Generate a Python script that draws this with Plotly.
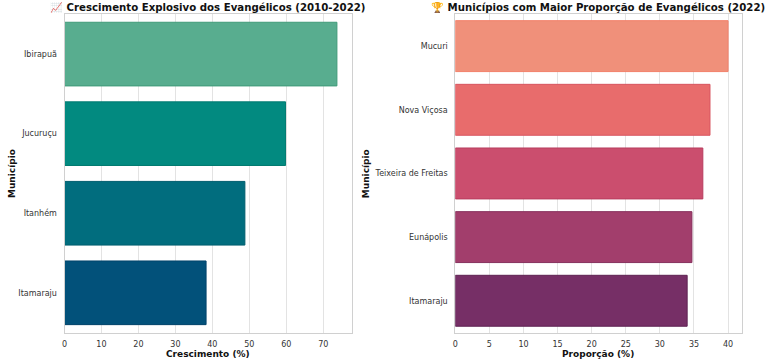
import plotly.graph_objects as go

# Left chart data
mun_cresc = ["Ibirapuã", "Jucuruçu", "Itanhém", "Itamaraju"]
crescimento = [73.7, 59.8, 48.8, 38.3]
cores_cresc = ["#58AD8F", "#028A80", "#016D7E", "#02517A"]
bordas_cresc = ["#3F9A78", "#007A70", "#005E6E", "#00436A"]

# Right chart data
mun_prop = ["Mucuri", "Nova Viçosa", "Teixeira de Freitas", "Eunápolis", "Itamaraju"]
proporcao = [40.0, 37.35, 36.3, 34.7, 34.0]
cores_prop = ["#F0907A", "#E86C6C", "#CB4E6E", "#A23E6C", "#762F66"]
bordas_prop = ["#F2806A", "#D85560", "#B83D5E", "#86305C", "#5E2252"]

ticks_cresc = [0, 10, 20, 30, 40, 50, 60, 70]
ticks_prop = [0, 5, 10, 15, 20, 25, 30, 35, 40]

W, H = 772, 360
def px_x(p): return p / W
def px_y(p): return 1 - p / H

fig = go.Figure()
fig.add_trace(go.Bar(
    x=crescimento, y=mun_cresc, orientation="h", width=0.8,
    marker=dict(color=cores_cresc, line=dict(color=bordas_cresc, width=1)),
    xaxis="x", yaxis="y", showlegend=False, hoverinfo="x+y"))
fig.add_trace(go.Bar(
    x=proporcao, y=mun_prop, orientation="h", width=0.8,
    marker=dict(color=cores_prop, line=dict(color=bordas_prop, width=1)),
    xaxis="x2", yaxis="y2", showlegend=False, hoverinfo="x+y"))

axis_common = dict(showline=True, mirror=True, linecolor="#d0d0d0", linewidth=1,
                   zeroline=False, automargin=False,
                   tickfont=dict(family="DejaVu Sans", size=8, color="#333333"))
top, bottom = 14.3, 332.6

fig.update_layout(
    width=W, height=H, margin=dict(l=0, r=0, t=0, b=0),
    paper_bgcolor="white", plot_bgcolor="white",
    xaxis=dict(domain=[px_x(64.5), px_x(351.7)], range=[0, 77.7], tickvals=ticks_cresc,
               showgrid=True, gridcolor="#e3e3e3", gridwidth=1, anchor="y",
               ticks="outside", ticklen=4, tickcolor="rgba(0,0,0,0)", **axis_common),
    yaxis=dict(domain=[px_y(bottom), px_y(top)], range=[3.5, -0.5], type="category",
               categoryorder="array", categoryarray=mun_cresc, showgrid=False, anchor="x",
               ticks="outside", ticklen=5, tickcolor="rgba(0,0,0,0)", **axis_common),
    xaxis2=dict(domain=[px_x(455.3), px_x(741.7)], range=[0, 42.0], tickvals=ticks_prop,
                showgrid=True, gridcolor="#e3e3e3", gridwidth=1, anchor="y2",
                ticks="outside", ticklen=4, tickcolor="rgba(0,0,0,0)", **axis_common),
    yaxis2=dict(domain=[px_y(bottom), px_y(top)], range=[4.5, -0.5], type="category",
                categoryorder="array", categoryarray=mun_prop, showgrid=False, anchor="x2",
                ticks="outside", ticklen=5, tickcolor="rgba(0,0,0,0)", **axis_common),
    font=dict(family="DejaVu Sans"),
)

def ann(text, x, y, size, bold=True, angle=0):
    fig.add_annotation(text=f"<b>{text}</b>" if bold else text, x=px_x(x), y=px_y(y),
                       xref="paper", yref="paper", showarrow=False, textangle=angle,
                       xanchor="center", yanchor="middle",
                       font=dict(family="DejaVu Sans", size=size, color="#111111"))

ann("📈 Crescimento Explosivo dos Evangélicos (2010-2022)", 208, 7.5, 10.2)
ann("🏆 Municípios com Maior Proporção de Evangélicos (2022)", 598, 7.5, 10.2)
ann("Crescimento (%)", 208, 354, 9)
ann("Proporção (%)", 598, 354, 9)
ann("Município", 11.5, 173.5, 9, angle=-90)
ann("Município", 365.7, 173.5, 9, angle=-90)

fig.write_html("out.html", config={"displayModeBar": False},
               post_script="document.body.style.margin='0';document.body.style.overflow='hidden';")
